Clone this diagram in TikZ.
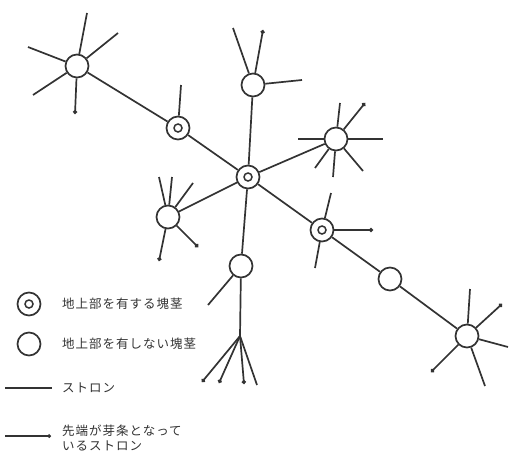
\documentclass[tikz,border=0pt]{standalone}
\usepackage{fontspec}
\newfontfamily\jp[LetterSpace=8]{Noto Sans CJK JP}
\usetikzlibrary{arrows.meta}
\begin{document}
\begin{tikzpicture}[x=1pt,y=-1pt,
  stolon/.style={line width=1.7pt, draw=black!80},
  tipped/.style={stolon, -{Circle[length=4pt]}},
  tuber/.style={circle, draw=black!80, line width=1.7pt, minimum size=23pt, inner sep=0pt, fill=white},
  shoot/.style={tuber, path picture={\draw[line width=1.5pt, black!80] (path picture bounding box.center) circle (4pt);}},
  legtext/.style={anchor=west, inner sep=0pt, font=\jp\fontsize{12.5pt}{15pt}\selectfont, text=black!80}
]
\useasboundingbox (0,0) rectangle (511,452);
% tubers
\node[tuber] (A) at (77,66) {};
\node[shoot] (B) at (178,128) {};
\node[shoot] (C) at (248,177) {};
\node[tuber] (D) at (253,85) {};
\node[tuber] (E) at (336,139) {};
\node[shoot] (F) at (322,230) {};
\node[tuber] (G) at (390,279) {};
\node[tuber] (H) at (467,336) {};
\node[tuber] (I) at (168,217) {};
\node[tuber] (J) at (241,266) {};
% free ends
\coordinate (a1) at (87,13);  \coordinate (a2) at (118,33); \coordinate (a3) at (28,47);
\coordinate (a4) at (33,95);  \coordinate (a5) at (75,114);
\coordinate (b1) at (181,85);
\coordinate (d1) at (233,28); \coordinate (d2) at (263,30); \coordinate (d3) at (302,80);
\coordinate (e1) at (340,103); \coordinate (e2) at (365,103); \coordinate (e3) at (298,139);
\coordinate (e4) at (383,139); \coordinate (e5) at (315,168); \coordinate (e6) at (333,177);
\coordinate (e7) at (363,171);
\coordinate (f1) at (331,193); \coordinate (f2) at (373,230); \coordinate (f3) at (315,268);
\coordinate (h1) at (470,289); \coordinate (h2) at (502,304); \coordinate (h3) at (508,347);
\coordinate (h4) at (431,372); \coordinate (h5) at (485,386);
\coordinate (i1) at (159,177); \coordinate (i2) at (172,177); \coordinate (i3) at (193,183);
\coordinate (i4) at (198,247); \coordinate (i5) at (159,261);
\coordinate (j1) at (208,305); \coordinate (k) at (240,336);
\coordinate (k1) at (202,382); \coordinate (k2) at (219,383); \coordinate (k3) at (244,384);
\coordinate (k4) at (257,385);
% main stolons
\draw[stolon] (A) -- (B);
\draw[stolon] (B) -- (C);
\draw[stolon] (C) -- (D);
\draw[stolon] (C) -- (E);
\draw[stolon] (C) -- (F);
\draw[stolon] (C) -- (I);
\draw[stolon] (C) -- (J);
\draw[stolon] (F) -- (G);
\draw[stolon] (G) -- (H);
\draw[stolon] (J) -- (k);
% rays
\draw[stolon] (A) -- (a1); \draw[stolon] (A) -- (a2); \draw[stolon] (A) -- (a3);
\draw[stolon] (A) -- (a4); \draw[tipped] (A) -- (a5);
\draw[stolon] (B) -- (b1);
\draw[stolon] (D) -- (d1); \draw[tipped] (D) -- (d2); \draw[stolon] (D) -- (d3);
\draw[stolon] (E) -- (e1); \draw[tipped] (E) -- (e2); \draw[stolon] (E) -- (e3);
\draw[stolon] (E) -- (e4); \draw[stolon] (E) -- (e5); \draw[stolon] (E) -- (e6);
\draw[stolon] (E) -- (e7);
\draw[stolon] (F) -- (f1); \draw[tipped] (F) -- (f2); \draw[stolon] (F) -- (f3);
\draw[stolon] (H) -- (h1); \draw[tipped] (H) -- (h2); \draw[stolon] (H) -- (h3);
\draw[tipped] (H) -- (h4); \draw[stolon] (H) -- (h5);
\draw[stolon] (I) -- (i1); \draw[stolon] (I) -- (i2); \draw[stolon] (I) -- (i3);
\draw[tipped] (I) -- (i4); \draw[tipped] (I) -- (i5);
\draw[stolon] (J) -- (j1);
\draw[tipped] (k) -- (k1); \draw[tipped] (k) -- (k2); \draw[tipped] (k) -- (k3);
\draw[stolon] (k) -- (k4);
% legend
\node[shoot] (L1) at (29,304) {};
\node[legtext] (T1) at (62,304) {地上部を有する塊茎};
\node[tuber] (L2) at (29,344) {};
\node[legtext] (T2) at (62,344) {地上部を有しない塊茎};
\coordinate (s1) at (5,388); \coordinate (s2) at (52,388);
\draw[line width=1.2pt, black!80] (s1) -- (s2);
\node[legtext] (T3) at (62,388) {ストロン};
\coordinate (t1) at (5,436); \coordinate (t2) at (51,436);
\draw[line width=1.2pt, black!80, -{Circle[length=3.6pt]}] (t1) -- (t2);
\node[legtext] (T4) at (62,431) {先端が芽条となって};
\node[legtext] (T5) at (62,446) {いるストロン};
\end{tikzpicture}
\end{document}
